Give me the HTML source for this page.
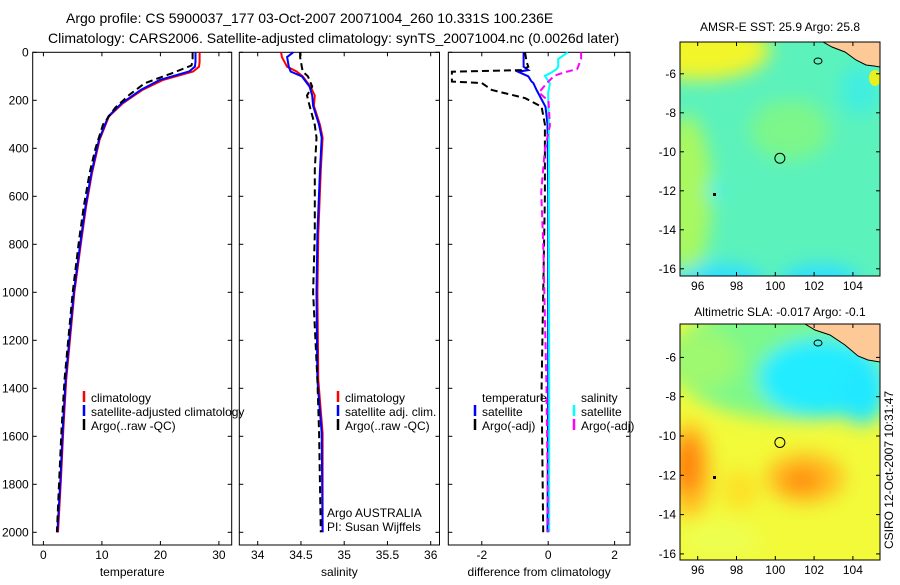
<!DOCTYPE html>
<html><head><meta charset="utf-8"><style>
html,body{margin:0;padding:0;background:#fff;}
svg text{font-family:"Liberation Sans",sans-serif;fill:#000;}
</style></head><body>
<svg id="fig" width="900" height="580" viewBox="0 0 900 580" xmlns="http://www.w3.org/2000/svg">
<defs>
<filter id="bl" x="-50%" y="-50%" width="200%" height="200%"><feGaussianBlur stdDeviation="9"/></filter>
<clipPath id="c1"><rect x="680" y="42" width="200" height="234"/></clipPath>
<clipPath id="c2"><rect x="680" y="324" width="200" height="236"/></clipPath>
</defs>
<text x="66" y="23" font-size="14">Argo profile: CS 5900037_177 03-Oct-2007 20071004_260 10.331S 100.236E</text>
<text x="48" y="43" font-size="14">Climatology: CARS2006. Satellite-adjusted climatology: synTS_20071004.nc (0.0026d later)</text>

<!-- map 1 -->
<g clip-path="url(#c1)">
<rect x="680" y="42" width="200" height="234" fill="#5cf2bc"/>
<g filter="url(#bl)">
<ellipse cx="700" cy="50" rx="70" ry="30" fill="#f2f52a"/>
<ellipse cx="686" cy="195" rx="26" ry="80" fill="#a8f860"/>
<ellipse cx="790" cy="130" rx="40" ry="30" fill="#7df68a"/>
<ellipse cx="720" cy="282" rx="45" ry="18" fill="#2ee0ff"/>
<ellipse cx="820" cy="282" rx="40" ry="18" fill="#2ee0ff"/>
<ellipse cx="860" cy="90" rx="20" ry="25" fill="#40eee0"/>
<ellipse cx="714" cy="191" rx="7" ry="8" fill="#30ecff"/>
</g>
<ellipse cx="875" cy="78" rx="6" ry="8" fill="#e8f020"/>
<polygon points="823,42 832,47 845,52 856,60 866,65 874,66 880,67 880,42" fill="#fdc997" stroke="#000" stroke-width="1"/>
<ellipse cx="818" cy="61" rx="4" ry="3" fill="none" stroke="#000" stroke-width="1"/>
<rect x="713" y="193" width="3" height="3" fill="#000"/>
</g>
<rect x="680" y="42" width="200" height="234" fill="none" stroke="#000" stroke-width="1"/>
<text x="780" y="31" text-anchor="middle" font-size="12">AMSR-E SST: 25.9 Argo: 25.8</text>

<!-- map 2 -->
<g clip-path="url(#c2)">
<rect x="680" y="324" width="200" height="236" fill="#f2fa3a"/>
<g filter="url(#bl)">
<ellipse cx="790" cy="360" rx="120" ry="60" fill="#7df88a"/>
<ellipse cx="700" cy="360" rx="40" ry="30" fill="#9ef870"/>
<ellipse cx="820" cy="378" rx="62" ry="40" fill="#20ecff"/>
<ellipse cx="862" cy="392" rx="25" ry="32" fill="#20e8ff"/>
<ellipse cx="690" cy="470" rx="22" ry="48" fill="#ffc020"/>
<ellipse cx="688" cy="465" rx="13" ry="30" fill="#ff8010"/>
<ellipse cx="805" cy="478" rx="40" ry="26" fill="#ffc020"/>
<ellipse cx="802" cy="480" rx="20" ry="13" fill="#ff9010"/>
<ellipse cx="740" cy="490" rx="18" ry="20" fill="#fde028"/>
<ellipse cx="720" cy="540" rx="40" ry="20" fill="#eefe50"/>
</g>
<polygon points="805,324 815,330 830,335 845,345 858,356 868,360 880,362 880,324" fill="#fdc997" stroke="#000" stroke-width="1"/>
<ellipse cx="818" cy="343" rx="4" ry="3" fill="none" stroke="#000" stroke-width="1"/>
<rect x="713" y="476" width="3" height="3" fill="#000"/>
</g>
<rect x="680" y="324" width="200" height="236" fill="none" stroke="#000" stroke-width="1"/>
<text x="780" y="316" text-anchor="middle" font-size="12">Altimetric SLA: -0.017 Argo: -0.1</text>
<text transform="translate(893,470) rotate(-90)" text-anchor="middle" font-size="12">CSIRO 12-Oct-2007 10:31:47</text>
<g id="dyn"></g>
</svg>
<script>
// ---- data ----
const depthTicks=[0,200,400,600,800,1000,1200,1400,1600,1800,2000];
const tempTicks=[0,10,20,30];
const salTicks=[34,34.5,35,35.5,36];
const diffTicks=[-2,0,2];
const lonTicks=[96,98,100,102,104];
const latTicks=[-6,-8,-10,-12,-14,-16];

const tDepth=[0,40,60,80,115,156,212,267,364,503,642,781,1000,1365,1574,1782,2000];
const tClim=[26.7,26.7,26.6,25.6,20.5,17.0,13.6,11.2,9.6,8.3,7.3,6.5,5.3,3.9,3.4,3.0,2.5];
const tSat=[26.0,26.0,25.9,24.9,19.9,16.7,13.4,11.1,9.5,8.2,7.2,6.4,5.2,3.8,3.3,2.9,2.4];
const aDepth=[0,40,55,88,129,177,230,300,400,503,642,781,1000,1365,1574,1782,2000];
const tArgo=[25.5,25.5,25.3,21.9,17.3,14.7,12.3,10.2,8.9,7.9,6.9,6.1,5.0,3.6,3.1,2.7,2.3];

const sDepth=[0,20,60,80,100,143,180,223,303,356,490,756,1000,1365,1587,2000];
const sClim=[34.27,34.28,34.34,34.45,34.52,34.61,34.66,34.65,34.72,34.75,34.73,34.70,34.69,34.70,34.75,34.75];
const sSat=[34.41,34.34,34.36,34.38,34.51,34.60,34.63,34.64,34.71,34.74,34.72,34.69,34.68,34.69,34.74,34.75];
const sArgo=[34.49,34.49,34.51,34.52,34.58,34.63,34.57,34.60,34.66,34.68,34.66,34.66,34.64,34.69,34.71,34.73];

const dDepth=[0,40,60,74,81,100,122,128,157,191,227,300,600,1000,1400,2000];
const dTSat=[-0.74,-0.74,-0.74,-0.6,-0.91,-0.6,-0.5,-0.45,-0.35,-0.22,-0.08,-0.02,0,0,0,-0.02];
const dTArgo=[-0.7,-0.65,-0.6,-0.8,-2.9,-2.9,-2.9,-2.0,-1.7,-0.7,-0.2,-0.1,-0.1,-0.15,-0.2,-0.15];
const dSDepth=[0,28,60,70,84,98,130,168,202,306,403,583,792,1400,2000];
const dSSat=[0.59,0.3,0.3,0.25,0.1,-0.1,0.05,0.0,0.0,0.02,0.02,0.02,0.02,0.03,0.03];
const dSArgo=[0.99,0.99,0.9,0.87,0.47,0.18,-0.05,-0.28,0.01,0.05,-0.1,-0.21,-0.15,-0.05,0.0];

// ---- scales ----
const Y=d=>52.3+d*0.24;
const XT=v=>43.4+v*5.85;
const XS=v=>257.7+(v-34)*86.5;
const XD=v=>548.2+v*33.2;
const LON=v=>697.7+(v-96)*19.4;
const LAT1=v=>73.8+(-6-v)*19.5;
const LAT2=v=>357.4+(-6-v)*19.65;

const NS='http://www.w3.org/2000/svg';
const root=document.getElementById('dyn');
function mk(tag,attrs,parent){const e=document.createElementNS(NS,tag);for(const k in attrs)e.setAttribute(k,attrs[k]);(parent||root).appendChild(e);return e;}

const panels=[
 {x0:32.7,x1:231.7,sx:XT,ticks:tempTicks,lab:'temperature',name:'temperature-panel'},
 {x0:239.3,x1:439.5,sx:XS,ticks:salTicks,lab:'salinity',name:'salinity-panel'},
 {x0:448.3,x1:630,sx:XD,ticks:diffTicks,lab:'difference from climatology',name:'difference-panel'}
];
const topY=52.3,botY=545;
panels.forEach((p,i)=>{
 const r=mk('rect',{x:p.x0,y:topY,width:p.x1-p.x0,height:botY-topY,fill:'none',stroke:'#000','stroke-width':1});
 
 
 depthTicks.forEach(d=>{
  mk('line',{x1:p.x0,x2:p.x0+4,y1:Y(d),y2:Y(d),stroke:'#000'});
  mk('line',{x1:p.x1,x2:p.x1-4,y1:Y(d),y2:Y(d),stroke:'#000'});
  if(i===0){const t=mk('text',{x:p.x0-4,y:Y(d)+4,'text-anchor':'end','font-size':12});t.textContent=d;
   
   }
 });
 p.ticks.forEach(v=>{
  const x=p.sx(v);
  mk('line',{x1:x,x2:x,y1:botY,y2:botY-4,stroke:'#000'});
  mk('line',{x1:x,x2:x,y1:topY,y2:topY+4,stroke:'#000'});
  const t=mk('text',{x:x,y:559,'text-anchor':'middle','font-size':12});t.textContent=v;
  
  
 });
 const t=mk('text',{x:(p.x0+p.x1)/2,y:576,'text-anchor':'middle','font-size':12});t.textContent=p.lab;
 
 
});

function line(depths,vals,sx,color,dash,name){
 const pts=depths.map((d,i)=>sx(vals[i]).toFixed(1)+','+Y(d).toFixed(1)).join(' ');
 const a={points:pts,fill:'none',stroke:color,'stroke-width':2};
 if(dash)a['stroke-dasharray']='7,4';
 const e=mk('polyline',a);
 
 
}
line(tDepth,tClim,XT,'#f00',false,'temp-climatology-line');
line(tDepth,tSat,XT,'#00f',false,'temp-satellite-line');
line(aDepth,tArgo,XT,'#000',true,'temp-argo-line');
line(sDepth,sClim,XS,'#f00',false,'sal-climatology-line');
line(sDepth,sSat,XS,'#00f',false,'sal-satellite-line');
line(sDepth,sArgo,XS,'#000',true,'sal-argo-line');
line(dDepth,dTSat,XD,'#00f',false,'diff-temp-satellite-line');
line(dDepth,dTArgo,XD,'#000',true,'diff-temp-argo-line');
line(dSDepth,dSSat,XD,'#0ff',false,'diff-sal-satellite-line');
line(dSDepth,dSArgo,XD,'#f0f',true,'diff-sal-argo-line');

function legend(x,y,color,label){
 if(color){const b=mk('line',{x1:x,x2:x,y1:y-11,y2:y,stroke:color,'stroke-width':2.5});
  
  }
 const t=mk('text',{x:x+7,y:y,'font-size':12});t.textContent=label;
 
 
}
legend(84,402,'#f00','climatology');
legend(84,416,'#00f','satellite-adjusted climatology');
legend(84,430,'#000','Argo(..raw -QC)');
legend(338,402,'#f00','climatology');
legend(338,416,'#00f','satellite adj. clim.');
legend(338,430,'#000','Argo(..raw -QC)');
legend(475,402,null,'temperature');
legend(475,416,'#00f','satellite');
legend(475,430,'#000','Argo(-adj)');
legend(574,402,null,'salinity');
legend(574,416,'#0ff','satellite');
legend(574,430,'#f0f','Argo(-adj)');
[['Argo AUSTRALIA',517],['PI: Susan Wijffels',531]].forEach(a=>{
 const t=mk('text',{x:327,y:a[1],'font-size':12});t.textContent=a[0];
 
 
});

// map axes
[[42,276,LAT1],[324,560,LAT2]].forEach((m,mi)=>{
 lonTicks.forEach(v=>{
  const x=LON(v);
  mk('line',{x1:x,x2:x,y1:m[1],y2:m[1]-4,stroke:'#000'});
  mk('line',{x1:x,x2:x,y1:m[0],y2:m[0]+4,stroke:'#000'});
  const t=mk('text',{x:x,y:m[1]+14,'text-anchor':'middle','font-size':12});t.textContent=v;
  
  
 });
 latTicks.forEach(v=>{
  const y=m[2](v);
  mk('line',{x1:680,x2:684,y1:y,y2:y,stroke:'#000'});
  mk('line',{x1:880,x2:876,y1:y,y2:y,stroke:'#000'});
  const t=mk('text',{x:676,y:y+4,'text-anchor':'end','font-size':12});t.textContent=v;
  
  
 });
 const c=mk('circle',{cx:LON(100.236),cy:m[2](-10.331),r:5,fill:'none',stroke:'#000','stroke-width':1});
 
 
});
</script>
</body></html>
